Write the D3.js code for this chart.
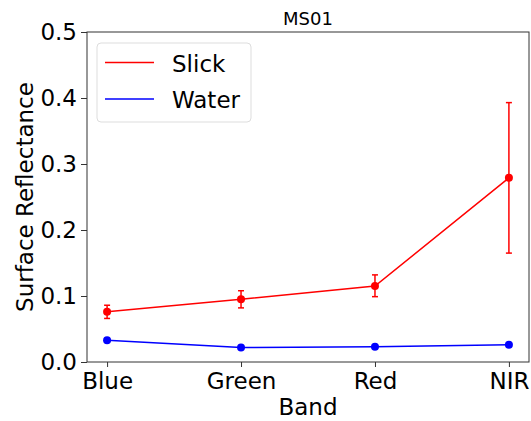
<!DOCTYPE html>
<html>
<head>
<meta charset="utf-8">
<script src="https://cdn.jsdelivr.net/npm/d3@7"></script>
<style>
  html, body { margin: 0; padding: 0; background: #fff; }
  svg { display: block; font-family: "DejaVu Sans", sans-serif; }
</style>
</head>
<body>
<svg id="chart" width="531" height="421"></svg>
<script>
// Band categories along the x axis
const bands = ["Blue", "Green", "Red", "NIR"];
// Mean surface reflectance per band
const slickMean = [0.076, 0.095, 0.115, 0.279];
const slickLow  = [0.066, 0.082, 0.099, 0.165];
const slickHigh = [0.086, 0.108, 0.132, 0.393];
const waterMean = [0.033, 0.022, 0.023, 0.026];
const yTicks = [0.0, 0.1, 0.2, 0.3, 0.4, 0.5];
const seriesNames = ["Slick", "Water"];

const svg = d3.select("#chart");
const m = { left: 87, right: 529, top: 32, bottom: 362 };
const fs = 23;

const x = d3.scaleLinear().domain([-0.15, 3.15]).range([m.left, m.right]);
const y = d3.scaleLinear().domain([0, 0.5]).range([m.bottom, m.top]);

// Frame
svg.append("rect")
  .attr("x", m.left).attr("y", m.top)
  .attr("width", m.right - m.left).attr("height", m.bottom - m.top)
  .attr("fill", "none").attr("stroke", "#333").attr("stroke-width", 1);

// Axes
const xAxis = svg.append("g").attr("transform", `translate(0,${m.bottom})`)
  .call(d3.axisBottom(x).tickValues(d3.range(bands.length)).tickFormat(i => bands[i]).tickSizeOuter(0).tickSize(5).tickPadding(6));
const yAxis = svg.append("g").attr("transform", `translate(${m.left},0)`)
  .call(d3.axisLeft(y).tickValues(yTicks).tickFormat(d3.format(".1f")).tickSizeOuter(0).tickSize(6).tickPadding(4));
[xAxis, yAxis].forEach(g => {
  g.select(".domain").remove();
  g.selectAll("line").attr("stroke", "#333");
  g.selectAll("text").attr("font-size", fs).attr("fill", "#000").attr("font-family", "DejaVu Sans");
});

// Titles
svg.append("text").attr("x", (m.left + m.right) / 2).attr("y", 25)
  .attr("text-anchor", "middle").attr("font-size", 18).text("MS01");
svg.append("text").attr("x", (m.left + m.right) / 2).attr("y", 415)
  .attr("text-anchor", "middle").attr("font-size", fs).text("Band");
svg.append("text").attr("transform", `translate(33,${(m.top + m.bottom) / 2}) rotate(-90)`)
  .attr("text-anchor", "middle").attr("font-size", fs).text("Surface Reflectance");

const line = d3.line().x((d, i) => x(i)).y(d => y(d));

// Slick error bars
const eb = svg.append("g").attr("stroke", "#ff0000").attr("stroke-width", 1.5);
slickMean.forEach((v, i) => {
  eb.append("line").attr("x1", x(i)).attr("x2", x(i)).attr("y1", y(slickLow[i])).attr("y2", y(slickHigh[i]));
  [slickLow[i], slickHigh[i]].forEach(c => {
    eb.append("line").attr("x1", x(i) - 3).attr("x2", x(i) + 3).attr("y1", y(c)).attr("y2", y(c));
  });
});

// Series lines and markers
[[slickMean, "#ff0000"], [waterMean, "#0000ff"]].forEach(([vals, col]) => {
  svg.append("path").datum(vals).attr("d", line).attr("fill", "none")
    .attr("stroke", col).attr("stroke-width", 1.5);
  svg.append("g").selectAll("circle").data(vals).join("circle")
    .attr("cx", (d, i) => x(i)).attr("cy", d => y(d)).attr("r", 4).attr("fill", col);
});

// Legend
const lg = svg.append("g");
lg.append("rect").attr("x", 97).attr("y", 43).attr("width", 154).attr("height", 79)
  .attr("rx", 4).attr("fill", "#fff").attr("fill-opacity", 0.8).attr("stroke", "#ddd");
seriesNames.forEach((name, i) => {
  const cy = 62.5 + i * 36.5;
  lg.append("line").attr("x1", 105).attr("x2", 154).attr("y1", cy).attr("y2", cy)
    .attr("stroke", i === 0 ? "#ff0000" : "#0000ff").attr("stroke-width", 1.5);
  lg.append("text").attr("x", 172).attr("y", cy + 9).attr("font-size", fs).text(name);
});
</script>
</body>
</html>
